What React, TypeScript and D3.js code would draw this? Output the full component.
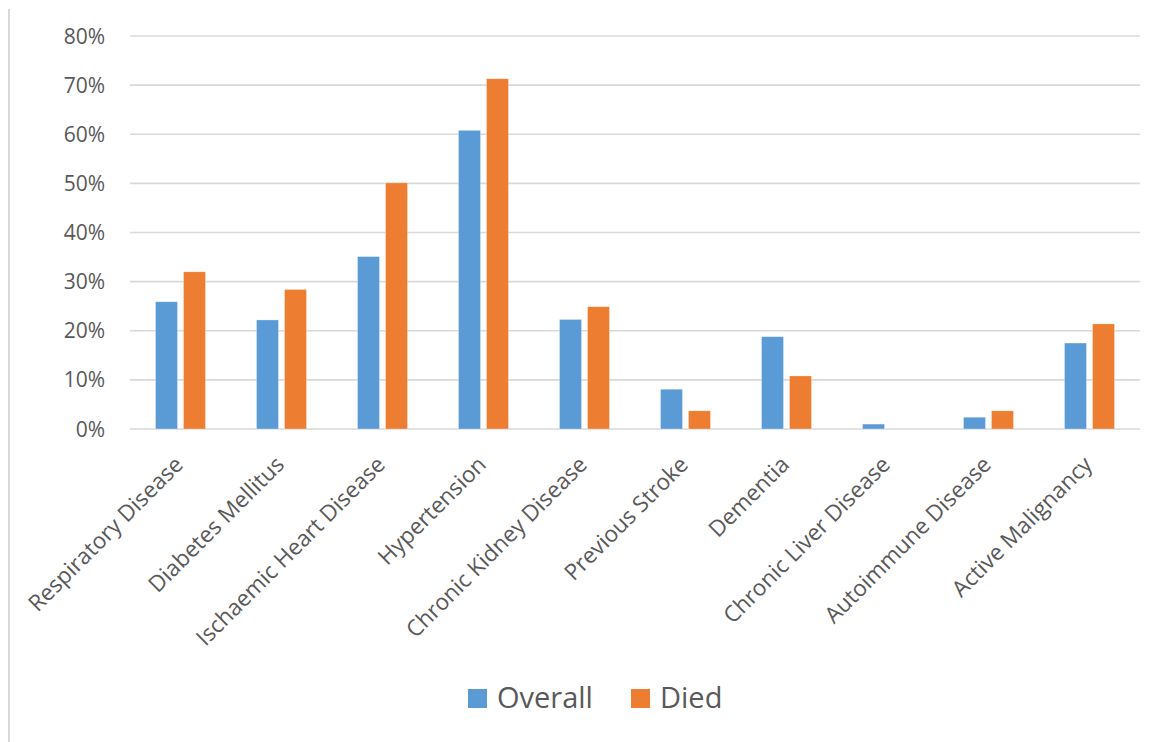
import React from "react";
import * as d3 from "d3";

const categories = [
  "Respiratory Disease",
  "Diabetes Mellitus",
  "Ischaemic Heart Disease",
  "Hypertension",
  "Chronic Kidney Disease",
  "Previous Stroke",
  "Dementia",
  "Chronic Liver Disease",
  "Autoimmune Disease",
  "Active Malignancy",
];
const seriesNames = ["Overall", "Died"];
const overall = [0.259, 0.222, 0.351, 0.608, 0.223, 0.081, 0.188, 0.01, 0.024, 0.175];
const died = [0.32, 0.284, 0.501, 0.713, 0.249, 0.037, 0.108, 0, 0.037, 0.214];
const yTicks = [0, 0.1, 0.2, 0.3, 0.4, 0.5, 0.6, 0.7, 0.8];
const colors = ["#5B9BD5", "#ED7D31"];

const W = 1155;
const H = 742;
const FONT = "'Open Sans', 'Noto Sans', sans-serif";
const GRAY = "#595959";

export default function App() {
  const x0 = d3.scaleBand<string>().domain(categories).range([130, 1140]).paddingInner(0.505).paddingOuter(0.2525);
  const x1 = d3.scaleBand<string>().domain(seriesNames).range([0, x0.bandwidth()]).paddingInner(6 / 28);
  const y = d3.scaleLinear().domain([0, 0.8]).range([429, 36]);
  const fmt = d3.format(".0%");
  const values = [overall, died];

  return (
    <svg width={W} height={H} style={{ position: "absolute", left: 0, top: 0, background: "#fff" }} fontFamily={FONT}>
      <rect x={0} y={0} width={W} height={H} fill="#fff" />
      <line x1={9} x2={9} y1={9} y2={H} stroke="#d9d9d9" strokeWidth={2} />
      {yTicks.map((t) => (
        <g key={t}>
          <line x1={130} x2={1140} y1={y(t)} y2={y(t)} stroke="#d9d9d9" strokeWidth={1.6} />
          <text x={105} y={y(t)} dy="0.36em" textAnchor="end" fontSize={21} fill={GRAY}>
            {fmt(t)}
          </text>
        </g>
      ))}
      {categories.map((c, i) => (
        <g key={c} transform={`translate(${x0(c)},0)`}>
          {seriesNames.map((s, j) => {
            const v = values[j][i];
            if (v <= 0) return null;
            return (
              <rect
                key={s}
                x={x1(s)}
                y={y(v)}
                width={x1.bandwidth()}
                height={y(0) - y(v)}
                fill={colors[j]}
                stroke="#fff"
                strokeWidth={0.6}
                strokeOpacity={0.5}
              />
            );
          })}
        </g>
      ))}
      {categories.map((c) => {
        const cx = (x0(c) as number) + x0.bandwidth() / 2;
        return (
          <text
            key={c}
            transform={`translate(${cx + 4},466) rotate(-45)`}
            textAnchor="end"
            fontSize={22.5}
            fill={GRAY}
          >
            {c}
          </text>
        );
      })}
      {seriesNames.map((s, j) => {
        const lx = [468, 631][j];
        return (
          <g key={s}>
            <rect x={lx} y={689} width={19} height={19} fill={colors[j]} />
            <text x={lx + 29} y={708} fontSize={29} fill={GRAY}>
              {s}
            </text>
          </g>
        );
      })}
    </svg>
  );
}
